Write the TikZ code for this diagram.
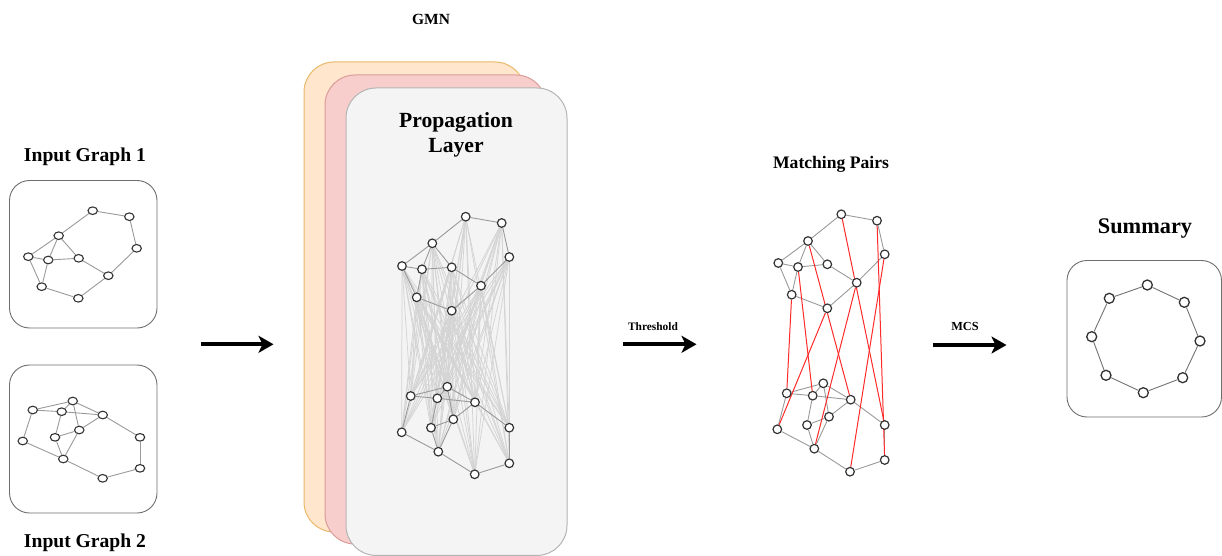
\documentclass[tikz,border=0pt]{standalone}
\usepackage{fontspec}
\setmainfont{Liberation Serif}
\usetikzlibrary{arrows.meta,shapes.geometric}

\definecolor{nodeline}{HTML}{333333}
\definecolor{edgegray}{HTML}{9A9A9A}
\definecolor{crossgray}{HTML}{D4D4D4}
\definecolor{framegray}{HTML}{6E6E6E}
\definecolor{orangefill}{HTML}{FFE6CC}
\definecolor{orangeline}{HTML}{E8B96A}
\definecolor{pinkfill}{HTML}{F8CECC}
\definecolor{pinkline}{HTML}{D99C99}
\definecolor{grayfill}{HTML}{F4F4F4}
\definecolor{grayline}{HTML}{B4B4B4}
\definecolor{matchred}{HTML}{FF2A2A}

\pgfdeclarelayer{cards}
\pgfdeclarelayer{links}
\pgfsetlayers{cards,links,main}

\tikzset{
  vert/.style={circle, draw=nodeline, fill=white, line width=1.2pt, minimum size=8.6pt, inner sep=0pt},
  ivert/.style={ellipse, draw=nodeline, fill=white, line width=1.1pt, minimum width=9.4pt, minimum height=7.6pt, inner sep=0pt},
  svert/.style={circle, draw=nodeline, fill=white, line width=1.3pt, minimum size=10pt, inner sep=0pt},
  edge/.style={draw=edgegray, line width=0.9pt},
  cross/.style={draw=crossgray, line width=0.75pt},
  matchline/.style={draw=matchred, line width=1pt},
  frame/.style={draw=framegray, line width=0.9pt, fill=white, rounded corners=20pt},
  card/.style={line width=1pt, rounded corners=30pt},
  flow/.style={line width=4pt, -{Stealth[length=15pt, width=17pt, inset=4pt]}},
  title/.style={font=\bfseries\fontsize{#1}{#1}\selectfont, anchor=base, inner sep=0pt},
}

\begin{document}
\begin{tikzpicture}[x=1pt, y=-1pt]
\useasboundingbox (0,0) rectangle (1222,556);

% ---- the GMN stack of layers ----
\begin{pgfonlayer}{cards}
  \draw[card, draw=orangeline, fill=orangefill] (304,62) rectangle (525,532);
  \draw[card, draw=pinkline, fill=pinkfill] (325,75) rectangle (546,544);
  \draw[card, draw=grayline, fill=grayfill] (346,88) rectangle (567,555.4);
  % frames of the input graphs and the summary
  \draw[frame] (9.5,180.5) rectangle (157,328);
  \draw[frame] (9.5,365) rectangle (157,513);
  \draw[frame] (1067,260.5) rectangle (1221.5,417);
\end{pgfonlayer}

% ---- titles ----
\node[title=15.5] (tgmn) at (431,25) {GMN};
\node[title=19.6] (tin1) at (85,161) {Input Graph 1};
\node[title=19.6] (tin2) at (85,547.5) {Input Graph 2};
\node[title=21.6] (tprop1) at (456,128) {Propagation};
\node[title=21.6] (tprop2) at (456,153) {Layer};
\node[title=17.6] (tmatch) at (831,168) {Matching Pairs};
\node[title=22.3] (tsum) at (1145,233) {Summary};
\node[title=11.4] (tthr) at (653,330) {Threshold};
\node[title=12.3] (tmcs) at (965,330) {MCS};

% ---- input graph 1 ----
\foreach \n/\x/\y in {A/92.7/210.7, B/129.3/216.7, C/136.7/248.3, D/58.7/235.7,
  E/28.3/256.7, F/48.3/260, G/78.7/258.3, H/108.3/275.7, I/41.7/286.7, J/78.3/298.3}
  \node[ivert] (u\n) at (\x,\y) {};
\begin{pgfonlayer}{links}
\foreach \s/\t in {A/B, B/C, C/H, H/G, G/D, D/A, D/E, D/F, E/F, F/G, E/I, F/I, I/J, J/H}
  \draw[edge] (u\s) -- (u\t);
\end{pgfonlayer}

% ---- input graph 2 ----
\foreach \n/\x/\y in {a/72.7/401, b/32.7/410, c/61.7/411.7, d/102.7/415, e/79.3/430,
  f/55/437.3, g/22.7/441, h/140/437.3, i/63.3/459, j/140/468.3, k/102.7/478.3}
  \node[ivert] (w\n) at (\x,\y) {};
\begin{pgfonlayer}{links}
\foreach \s/\t in {a/b, a/c, a/d, a/e, b/c, c/d, c/f, d/e, e/f, e/i, f/i, b/g, g/i, i/k, k/j, j/h, h/d}
  \draw[edge] (w\s) -- (w\t);
\end{pgfonlayer}

% ---- propagation layer: both graphs with cross-graph attention ----
\foreach \n/\x/\y in {A/465.7/216.7, B/501.7/223, C/509.3/257, D/432.3/243.3,
  E/402/266, F/422/269.3, G/451.7/267.3, H/481/285.7, I/416.7/297.3, J/451.7/310.7}
  \node[vert] (p\n) at (\x,\y) {};
\foreach \n/\x/\y in {a/447.3/386.7, b/410.7/396, c/437.3/398.3, d/475/402.3, e/453.3/419.3,
  f/431/427.7, g/401.7/432.3, h/509.3/427.7, i/438.3/451.7, j/509.3/463.3, k/474.7/474.3}
  \node[vert] (q\n) at (\x,\y) {};
\begin{pgfonlayer}{links}
\foreach \s in {A,B,C,D,E,F,G,H,I,J}
  \foreach \t in {a,b,c,d,e,f,g,h,i,j,k}
    \draw[cross] (p\s) -- (q\t);
\foreach \s/\t in {A/B, B/C, C/H, H/G, G/D, D/A, D/E, D/F, E/F, F/G, E/I, F/I, I/J, J/H}
  \draw[edge] (p\s) -- (p\t);
\foreach \s/\t in {a/b, a/c, a/d, a/e, b/c, c/d, c/f, d/e, e/f, e/i, f/i, b/g, g/i, i/k, k/j, j/h, h/d}
  \draw[edge] (q\s) -- (q\t);
\end{pgfonlayer}

% ---- matching pairs ----
\foreach \n/\x/\y in {A/841.3/214.3, B/877/220.7, C/884.7/254.3, D/808/241,
  E/778.3/263, F/798/267, G/827.3/264.3, H/856.7/282.7, I/791.7/294.7, J/827.3/308.3}
  \node[vert] (m\n) at (\x,\y) {};
\foreach \n/\x/\y in {a/823.3/383.3, b/786.7/393.3, c/812.7/395.7, d/850.7/399.7, e/829/416.7,
  f/807/425, g/777.3/429.3, h/884.7/425, i/814.3/448.7, j/884.7/460, k/850/471.7}
  \node[vert] (n\n) at (\x,\y) {};
\begin{pgfonlayer}{links}
\foreach \s/\t in {A/B, B/C, C/H, H/G, G/D, D/A, D/E, D/F, E/F, F/G, E/I, F/I, I/J, J/H}
  \draw[edge] (m\s) -- (m\t);
\foreach \s/\t in {a/b, a/c, a/d, a/e, b/c, c/d, c/f, d/e, e/f, e/i, f/i, b/g, g/i, i/k, k/j, j/h, h/d}
  \draw[edge] (n\s) -- (n\t);
\foreach \s/\t in {A/h, B/j, C/k, D/d, F/c, I/b, J/g, H/i}
  \draw[matchline] (m\s) -- (n\t);
\end{pgfonlayer}

% ---- summary: the maximum common subgraph ----
\foreach \n/\x/\y in {1/1147.3/285, 2/1184.3/302.3, 3/1200/341, 4/1182.7/377.7,
  5/1143.3/392.7, 6/1106/375.3, 7/1091.7/336.7, 8/1109.3/298.3}
  \node[svert] (s\n) at (\x,\y) {};
\begin{pgfonlayer}{links}
\foreach \s/\t in {1/2, 2/3, 3/4, 4/5, 5/6, 6/7, 7/8, 8/1}
  \draw[edge, draw=gray!90!black] (s\s) -- (s\t);
\end{pgfonlayer}

% ---- flow arrows ----
\coordinate (f1s) at (200.5,344.3);
\coordinate (f1e) at (273.5,344.3);
\coordinate (f2s) at (623,344.3);
\coordinate (f2e) at (696.5,344.3);
\coordinate (f3s) at (933,345);
\coordinate (f3e) at (1006.5,345);
\draw[flow] (f1s) -- (f1e);
\draw[flow] (f2s) -- (f2e);
\draw[flow] (f3s) -- (f3e);
\end{tikzpicture}
\end{document}
